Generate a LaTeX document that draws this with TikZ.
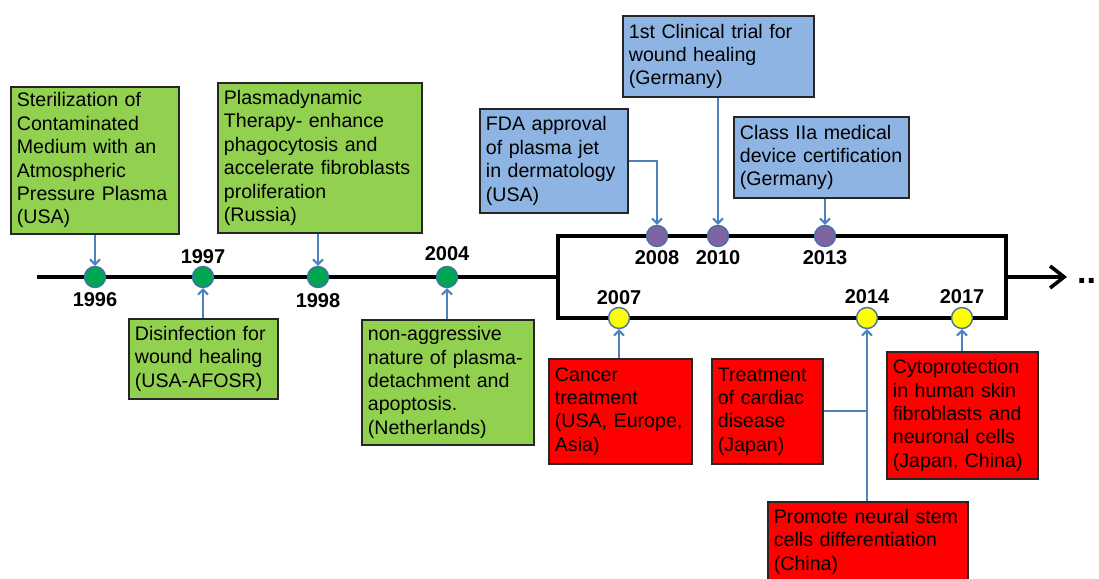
\documentclass[tikz,border=0pt]{standalone}
\usepackage{fontspec}
\setmainfont{Liberation Sans}
\usetikzlibrary{arrows.meta}
\definecolor{gfill}{RGB}{146,208,80}
\definecolor{bfill}{RGB}{141,180,226}
\definecolor{rfill}{RGB}{255,0,0}
\definecolor{conn}{RGB}{79,129,189}
\definecolor{dotedge}{RGB}{65,113,170}
\definecolor{dgreen}{RGB}{0,166,80}
\definecolor{dpurple}{RGB}{128,100,162}
\definecolor{dyellow}{RGB}{255,255,0}
\tikzset{
  evbox/.style={draw=black!85, line width=1.8pt, anchor=north west, inner xsep=6pt, inner ysep=2pt,
    align=left, font=\fontsize{19.6}{23.4}\selectfont},
  gbox/.style={evbox, fill=gfill},
  bbox/.style={evbox, fill=bfill},
  rbox/.style={evbox, fill=rfill},
  evdot/.style={circle, draw=dotedge, line width=1.4pt, minimum size=21pt, inner sep=0pt},
  gdot/.style={evdot, fill=dgreen},
  pdot/.style={evdot, fill=dpurple},
  ydot/.style={evdot, fill=dyellow},
  yr/.style={font=\fontsize{20}{24}\selectfont\bfseries, inner sep=0pt},
  mainline/.style={draw=black, line width=3.6pt},
  conarrow/.style={draw=conn, line width=2pt, -{Straight Barb[length=5pt,width=10pt,line width=2pt]}},
  conline/.style={draw=conn, line width=2pt},
}
\begin{document}
\begin{tikzpicture}[x=1pt,y=-1pt]
\useasboundingbox[fill=white] (0,0) rectangle (1099,578);

% timeline
\coordinate (start) at (37,277);
\coordinate (boxL) at (558,277);
\coordinate (boxTL) at (558,236);
\coordinate (boxBR) at (1006,318);
\coordinate (boxR) at (1006,277);
\coordinate (arrEnd) at (1067,277);
\draw[mainline] (start) -- (boxL);
\draw[mainline, line join=miter] (boxTL) rectangle (boxBR);
\draw[mainline, -{Straight Barb[length=14pt,width=22pt,line width=3.6pt]}] (boxR) -- (arrEnd);
\node[font=\fontsize{34}{36}\selectfont\bfseries, anchor=base west, inner sep=0pt] (more) at (1077,283) {..};

% dots
\node[gdot] (d1996) at (95,277) {};
\node[gdot] (d1997) at (203,277) {};
\node[gdot] (d1998) at (318,277) {};
\node[gdot] (d2004) at (447,277) {};
\node[pdot] (d2008) at (657,236) {};
\node[pdot] (d2010) at (718,236) {};
\node[pdot] (d2013) at (825,236) {};
\node[ydot] (d2007) at (619,318) {};
\node[ydot] (d2014) at (867,318) {};
\node[ydot] (d2017) at (962,318) {};

% years
\node[yr] (y1996) at (95,300) {1996};
\node[yr] (y1997) at (203,257) {1997};
\node[yr] (y1998) at (318,301) {1998};
\node[yr] (y2004) at (447,254) {2004};
\node[yr] (y2008) at (657,258) {2008};
\node[yr] (y2010) at (718,258) {2010};
\node[yr] (y2013) at (825,258) {2013};
\node[yr] (y2007) at (619,298) {2007};
\node[yr] (y2014) at (867,297) {2014};
\node[yr] (y2017) at (962,297) {2017};

% green boxes
\node[gbox, text width=156pt, minimum height=147pt] (g1) at (10,86)
  {Sterilization of\\Contaminated\\Medium with an\\Atmospheric\\Pressure Plasma\\(USA)};
\node[gbox, text width=192pt, minimum height=150pt] (g2) at (217,82)
  {Plasmadynamic\\Therapy- enhance\\phagocytosis and\\accelerate fibroblasts\\proliferation\\(Russia)};
\node[gbox, text width=137pt, minimum height=80pt] (g3) at (128,318)
  {Disinfection for\\wound healing\\(USA-AFOSR)};
\node[gbox, text width=160pt, minimum height=125pt] (g4) at (361,319)
  {non-aggressive\\nature of plasma-\\detachment and\\apoptosis.\\(Netherlands)};

% blue boxes
\node[bbox, text width=136pt, minimum height=104pt] (b1) at (479,108)
  {FDA approval\\of plasma jet\\in dermatology\\(USA)};
\node[bbox, text width=179pt, minimum height=81pt] (b2) at (622,15)
  {1st Clinical trial for\\wound healing\\(Germany)};
\node[bbox, text width=163pt, minimum height=81pt] (b3) at (733,116)
  {Class IIa medical\\device certification\\(Germany)};

% red boxes
\node[rbox, text width=131pt, minimum height=105pt] (r1) at (548,358)
  {Cancer\\treatment\\(USA, Europe,\\Asia)};
\node[rbox, text width=99pt, minimum height=105pt] (r2) at (711,358)
  {Treatment\\of cardiac\\disease\\(Japan)};
\node[rbox, text width=188pt, minimum height=80pt] (r3) at (767,501)
  {Promote neural stem\\cells differentiation\\(China)};
\node[rbox, text width=139pt, minimum height=127pt] (r4) at (886,351)
  {Cytoprotection\\in human skin\\fibroblasts and\\neuronal cells\\(Japan, China)};

% connectors
\draw[conarrow] (g1.south -| d1996) -- (d1996.north);
\draw[conarrow] (g3.north -| d1997) -- (d1997.south);
\draw[conarrow] (g2.south -| d1998) -- (d1998.north);
\draw[conarrow] (g4.north -| d2004) -- (d2004.south);
\draw[conarrow] (b1.east) -| (d2008.north);
\draw[conarrow] (b2.south -| d2010) -- (d2010.north);
\draw[conarrow] (b3.south -| d2013) -- (d2013.north);
\draw[conarrow] (r1.north -| d2007) -- (d2007.south);
\draw[conarrow] (r3.north -| d2014) -- (d2014.south);
\draw[conline] (r2.east) -- (r2.east -| d2014);
\draw[conarrow] (r4.north -| d2017) -- (d2017.south);
\end{tikzpicture}
\end{document}
